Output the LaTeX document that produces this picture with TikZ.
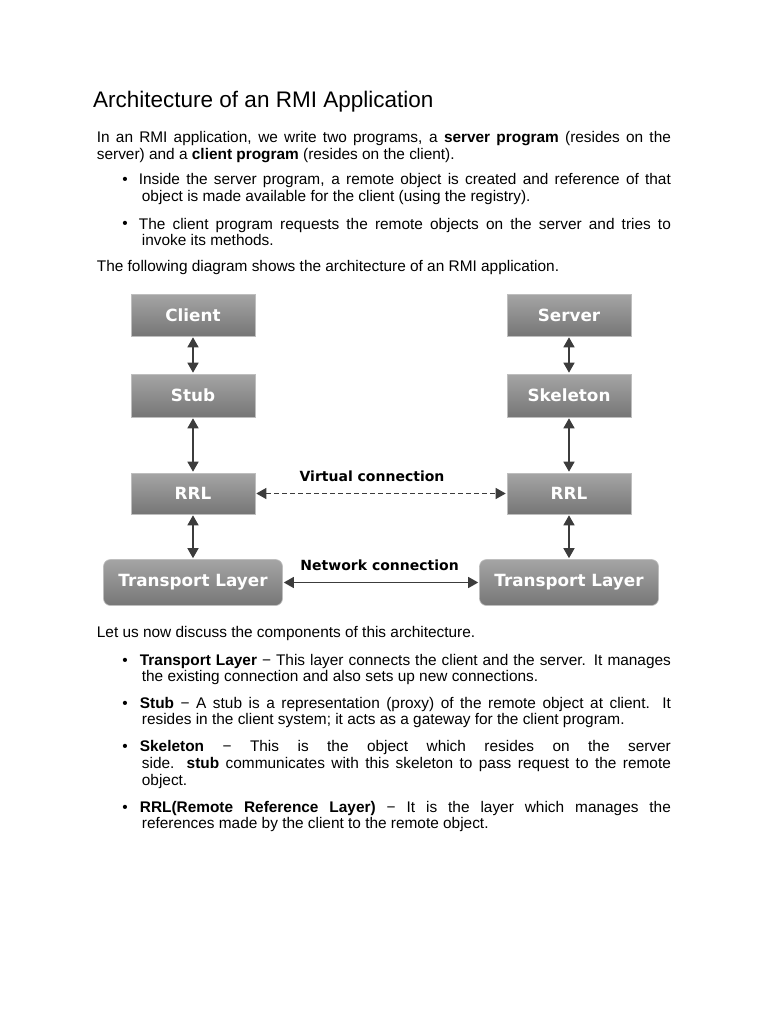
\documentclass[tikz,border=0pt]{standalone}
\usepackage{fontspec}
\setmainfont{Liberation Sans}
\newfontfamily\boxfont{DejaVu Sans}
\usetikzlibrary{arrows.meta}
\definecolor{boxtop}{RGB}{165,165,165}
\definecolor{boxbot}{RGB}{118,118,118}
\definecolor{boxedge}{RGB}{190,190,190}
\definecolor{arrcol}{RGB}{60,60,60}
\newcommand\jp[1]{\makebox[574pt][s]{#1}}
\newcommand\jb[2][529pt]{\makebox[#1][s]{#2}}

\begin{document}
\begin{tikzpicture}[
    x=1pt,y=-1pt,
    txt/.style={anchor=base west, inner sep=0pt, align=left, font=\fontsize{15.4}{16.8}\selectfont},
    dot/.style={anchor=base, inner sep=0pt, font=\fontsize{15.4}{16.8}\selectfont},
    blk/.style={top color=boxtop, bottom color=boxbot, draw=boxedge, line width=0.6pt, text=white, minimum width=124pt, minimum height=42pt, inner sep=0pt, font=\boxfont\bfseries\fontsize{16.8}{19}\selectfont},
    lay/.style={blk, rounded corners=7pt, minimum width=179pt, minimum height=46pt},
    conn/.style={inner sep=0pt, font=\boxfont\bfseries\fontsize{14}{16}\selectfont},
    arr/.style={draw=arrcol, line width=1.4pt, {Triangle[length=10pt,width=11pt]}-{Triangle[length=10pt,width=11pt]}, shorten <=1pt, shorten >=1pt}
    ]
    \fill[white] (0,0) rectangle (768,1024);
    \useasboundingbox (0,0) rectangle (768,1024);

    % text above the diagram (multi-line nodes sit on their last baseline)
    \node[txt, font=\fontsize{22.5}{27}\selectfont] (title) at (93,107.7) {Architecture of an RMI Application};
    \node[txt] (intro) at (96.7,159.5) {\jp{In an RMI application, we write two programs, a \textbf{server program} (resides on the}\\
      server) and a \textbf{client program} (resides on the client).};
    \node[dot] (d1) at (125,185) {•};
    \node[txt] (b1) at (141.7,201.8) {\hspace*{-3pt}\jb[532pt]{Inside the server program, a remote object is created and reference of that}\\
      object is made available for the client (using the registry).};
    \node[dot] (d2) at (125,229) {•};
    \node[txt] (b2) at (141.7,245.8) {\hspace*{-3pt}\jb[532pt]{The client program requests the remote objects on the server and tries to}\\
      invoke its methods.};
    \node[txt] (follow) at (96.7,271.7) {The following diagram shows the architecture of an RMI application.};

    % diagram
    \node[blk] (client) at (193,315) {Client};
    \node[blk] (server) at (569,315) {Server};
    \node[blk, minimum height=43pt] (stub) at (193,395.5) {Stub};
    \node[blk, minimum height=43pt] (skel) at (569,395.5) {Skeleton};
    \node[blk, minimum height=41pt] (rrlc) at (193,493.5) {RRL};
    \node[blk, minimum height=41pt] (rrls) at (569,493.5) {RRL};
    \node[lay] (tlc) at (193,582.5) {Transport Layer};
    \node[lay] (tls) at (569,582.5) {Transport Layer};
    \node[conn] (virt) at (372,476.7) {Virtual connection};
    \node[conn] (netw) at (379.6,565.7) {Network connection};

    \draw[arr] (client) -- (stub);
    \draw[arr] (stub) -- (rrlc);
    \draw[arr] (rrlc) -- (tlc);
    \draw[arr] (server) -- (skel);
    \draw[arr] (skel) -- (rrls);
    \draw[arr] (rrls) -- (tls);
    \draw[arr, line width=1pt, dash pattern=on 5pt off 3pt] (rrlc) -- (rrls);
    \draw[arr, line width=1.2pt] (tlc) -- (tls);

    % text below the diagram
    \node[txt] (discuss) at (96.7,637) {Let us now discuss the components of this architecture.};
    \node[dot] (d3) at (125,665) {•};
    \node[txt] (b3) at (141.7,681.8) {\hspace*{-2pt}\jb[531pt]{\textbf{Transport Layer} − This layer connects the client and the server. It manages}\\
      the existing connection and also sets up new connections.};
    \node[dot] (d4) at (125,708) {•};
    \node[txt] (b4) at (141.7,724.8) {\hspace*{-2pt}\jb[531pt]{\textbf{Stub} − A stub is a representation (proxy) of the remote object at client. It}\\
      resides in the client system; it acts as a gateway for the client program.};
    \node[dot] (d5) at (125,751.7) {•};
    \node[txt] (b5) at (141.7,785.3) {\hspace*{-2pt}\jb[531pt]{\textbf{Skeleton} − This is the object which resides on the server}\\
      \jb{side. \textbf{stub} communicates with this skeleton to pass request to the remote}\\
      object.};
    \node[dot] (d6) at (125,812) {•};
    \node[txt] (b6) at (141.7,828.8) {\hspace*{-2pt}\jb[531pt]{\textbf{RRL(Remote Reference Layer)} − It is the layer which manages the}\\
      references made by the client to the remote object.};
\end{tikzpicture}
\end{document}
